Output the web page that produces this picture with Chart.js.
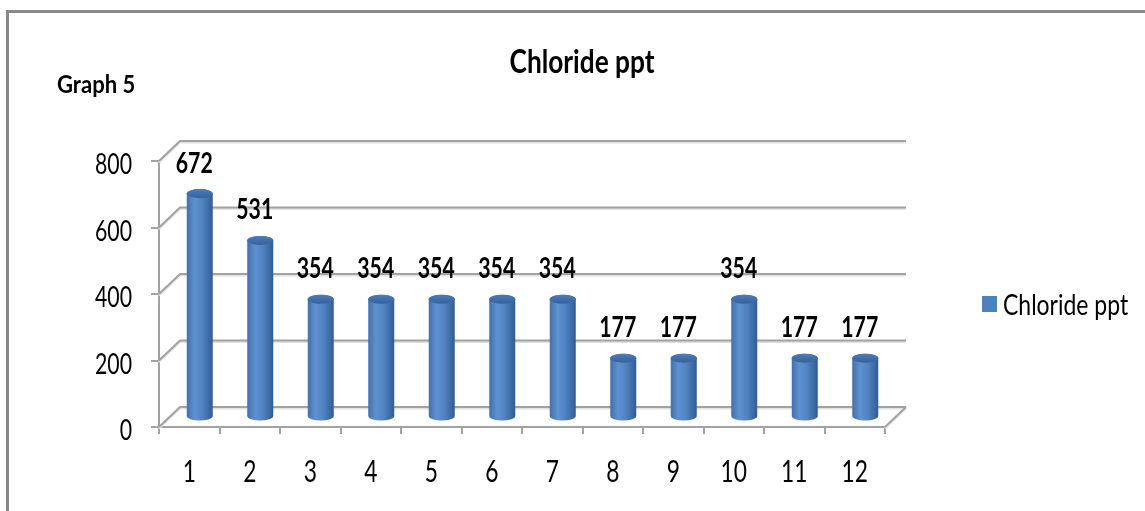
<!DOCTYPE html>
<html>
<head>
<meta charset="utf-8">
<title>Chloride ppt</title>
<script src="https://cdn.jsdelivr.net/npm/chart.js@4.4.1/dist/chart.umd.min.js"></script>
<style>
  html, body { margin: 0; padding: 0; background: #ffffff; overflow: hidden; }
  canvas { display: block; }
</style>
</head>
<body>
<canvas id="chart" width="1145" height="511"></canvas>
<script>
// ---- data ----
const categories = ['1', '2', '3', '4', '5', '6', '7', '8', '9', '10', '11', '12'];
const chlorideValues = [672, 531, 354, 354, 354, 354, 354, 177, 177, 354, 177, 177];
const yTickValues = [0, 200, 400, 600, 800];
const seriesName = 'Chloride ppt';
const chartTitle = 'Chloride ppt';
const graphLabel = 'Graph 5';

// ---- styling ----
const FONT = 'Lato, "Open Sans", "DejaVu Sans", sans-serif';
const SQUEEZE = 0.76;    // narrow, tall lettering
const DEPTH_X = 21;      // horizontal shift of the back wall
const DEPTH_Y = -20;     // vertical shift of the back wall
const GRID = '#a2a2a2';
const GRID_SHADOW = '#e2e2e2';
const BAR_BLUE = '#4f81bd';

function strokePath(ctx, pts, color, width) {
  ctx.beginPath();
  ctx.moveTo(pts[0][0], pts[0][1]);
  for (let i = 1; i < pts.length; i++) ctx.lineTo(pts[i][0], pts[i][1]);
  ctx.strokeStyle = color;
  ctx.lineWidth = width;
  ctx.stroke();
}

function drawText(ctx, text, x, y, font, align, squeeze) {
  ctx.save();
  ctx.font = font;
  ctx.fillStyle = '#000000';
  ctx.textAlign = align;
  ctx.textBaseline = 'alphabetic';
  ctx.translate(x, y);
  ctx.scale(squeeze || SQUEEZE, 1);
  ctx.fillText(text, 0, 0);
  ctx.restore();
}

// Outer frame, titles, legend, tick labels and the 3-D back wall / floor
const framePlugin = {
  id: 'frame3d',
  beforeDraw(chart) {
    const ctx = chart.ctx;
    ctx.save();
    ctx.fillStyle = '#ffffff';
    ctx.fillRect(0, 0, chart.width, chart.height);
    strokePath(ctx, [[7.5, chart.height + 10], [7.5, 11.5], [chart.width + 10, 11.5]], '#8a8a8a', 3);
    ctx.restore();
  },
  beforeDatasetsDraw(chart) {
    const ctx = chart.ctx;
    const area = chart.chartArea;
    const y = chart.scales.y;
    ctx.save();
    const zeroY = y.getPixelForValue(0);
    const drawWall = (color, width, off) => {
      yTickValues.forEach(v => {
        const py = y.getPixelForValue(v) + off;
        strokePath(ctx, [[area.left, py], [area.left + DEPTH_X, py + DEPTH_Y], [area.right + DEPTH_X, py + DEPTH_Y]], color, width);
      });
      strokePath(ctx, [[area.right, zeroY + off], [area.right + DEPTH_X, zeroY + DEPTH_Y + off]], color, width);
    };
    drawWall(GRID_SHADOW, 2, 1.5);
    drawWall(GRID, 2, 0);
    ctx.restore();
  },
  afterDatasetsDraw(chart) {
    const ctx = chart.ctx;
    const meta = chart.getDatasetMeta(0);
    const xs = chart.scales.x;
    const ys = chart.scales.y;
    ctx.save();
    meta.data.forEach((bar, i) => {
      const cx = bar.x + DEPTH_X / 2;
      const top = bar.y + DEPTH_Y / 2;
      const base = bar.base + DEPTH_Y / 2;
      const rx = bar.width / 2;
      const ry = 4.5;

      const grad = ctx.createLinearGradient(cx - rx, 0, cx + rx, 0);
      grad.addColorStop(0, '#4570a8');
      grad.addColorStop(0.3, '#5e91d1');
      grad.addColorStop(0.6, '#5183c1');
      grad.addColorStop(1, '#305c94');

      // body with rounded bottom
      ctx.beginPath();
      ctx.moveTo(cx - rx, top);
      ctx.lineTo(cx - rx, base);
      ctx.ellipse(cx, base, rx, ry, 0, Math.PI, 0, true);
      ctx.lineTo(cx + rx, top);
      ctx.ellipse(cx, top, rx, ry, 0, 0, Math.PI, true);
      ctx.closePath();
      ctx.fillStyle = grad;
      ctx.fill();

      // top cap
      const capGrad = ctx.createLinearGradient(0, top - ry, 0, top + ry);
      capGrad.addColorStop(0, '#4d7cb7');
      capGrad.addColorStop(1, '#37619a');
      ctx.beginPath();
      ctx.ellipse(cx, top, rx, ry, 0, 0, Math.PI * 2);
      ctx.fillStyle = capGrad;
      ctx.fill();

      // value label
      drawText(ctx, String(chlorideValues[i]), bar.x + 5, top - 21, 'bold 28px ' + FONT, 'center');
    });

    // axis tick labels
    xs.ticks.forEach((t, i) => {
      drawText(ctx, xs.getLabelForValue(t.value), xs.getPixelForTick(i), 482, '30px ' + FONT, 'center');
    });
    ys.ticks.forEach(t => {
      drawText(ctx, String(t.value), ys.left + ys.width - 27, ys.getPixelForValue(t.value) + 13, '28px ' + FONT, 'right');
    });

    // chart title
    drawText(ctx, chartTitle, 582, 73, 'bold 32px ' + FONT, 'center', 0.82);

    // side label
    drawText(ctx, graphLabel, 57, 93, 'bold 24px ' + FONT, 'left', 0.92);

    // legend
    ctx.fillStyle = BAR_BLUE;
    ctx.fillRect(982, 296, 15, 16);
    drawText(ctx, seriesName, 1003, 315, '28px ' + FONT, 'left', 0.82);
    ctx.restore();
  }
};

function build() {
  new Chart(document.getElementById('chart'), {
    type: 'bar',
    data: {
      labels: categories,
      datasets: [{
        label: seriesName,
        data: chlorideValues,
        backgroundColor: 'rgba(0,0,0,0)',
        borderWidth: 0,
        categoryPercentage: 1,
        barPercentage: 0.43
      }]
    },
    options: {
      responsive: false,
      animation: false,
      events: [],
      layout: { padding: { left: 0, top: 161, right: 260, bottom: 0 } },
      plugins: {
        legend: { display: false },
        title: { display: false },
        tooltip: { enabled: false }
      },
      scales: {
        x: {
          type: 'category',
          offset: true,
          grid: { display: true, offset: true, drawOnChartArea: false, drawTicks: true, tickLength: 7, color: GRID, lineWidth: 2 },
          border: { display: true, color: GRID, width: 2 },
          ticks: { display: false },
          afterFit(scale) { scale.height = 84; }
        },
        y: {
          min: 0,
          max: 800,
          afterBuildTicks(scale) { scale.ticks = yTickValues.map(v => ({ value: v })); },
          grid: { display: true, drawOnChartArea: false, drawTicks: true, tickLength: 8, color: GRID, lineWidth: 2 },
          border: { display: true, color: GRID, width: 2 },
          ticks: { display: false },
          afterFit(scale) { scale.width = 159; }
        }
      }
    },
    plugins: [framePlugin]
  });
}

const fontLoads = ['28px Lato', 'bold 28px Lato'].map(f => document.fonts.load(f).catch(() => null));
Promise.all(fontLoads).then(build, build);
</script>
</body>
</html>
